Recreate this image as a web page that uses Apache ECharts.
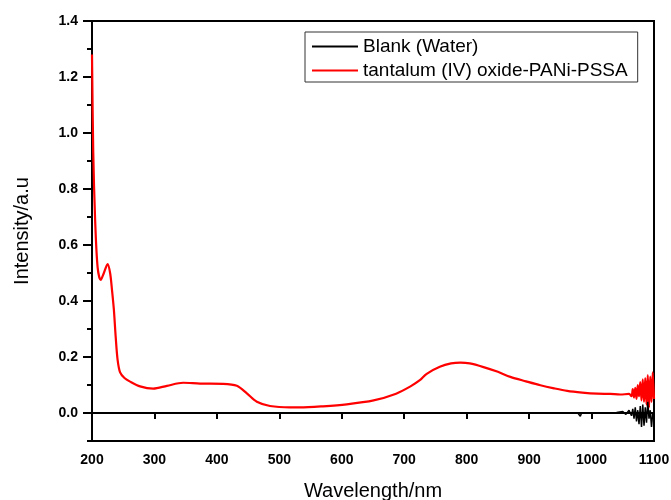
<!DOCTYPE html>
<html>
<head>
<meta charset="utf-8">
<script src="https://cdn.jsdelivr.net/npm/echarts@6/dist/echarts.min.js"></script>
<style>
  html, body { margin: 0; padding: 0; background: #fff; }
  #chart { width: 671px; height: 500px; }
</style>
</head>
<body>
<div id="chart"></div>
<script>
// series names
const seriesNames = ['Blank (Water)', 'tantalum (IV) oxide-PANi-PSSA'];

// y tick labels (major), minor ticks every 0.1
const yMajorTicks = [0, 0.2, 0.4, 0.6, 0.8, 1.0, 1.2, 1.4];

// red curve [wavelength, intensity]
const sampleData = [
  [200, 1.28], [202, 0.93], [205, 0.69], [209, 0.52], [214, 0.475], [219, 0.50],
  [225, 0.532], [229, 0.50], [232, 0.44], [235, 0.37], [238, 0.27], [241, 0.19],
  [245, 0.145], [252, 0.125], [261, 0.112], [277, 0.095], [298, 0.087], [320, 0.097],
  [346, 0.108], [373, 0.105], [410, 0.104], [432, 0.097], [448, 0.07], [464, 0.04],
  [485, 0.025], [517, 0.02], [533, 0.02], [570, 0.024], [608, 0.031], [651, 0.045],
  [687, 0.069], [710, 0.095], [725, 0.117], [736, 0.14], [757, 0.165], [775, 0.177],
  [790, 0.18], [805, 0.177], [827, 0.164], [850, 0.147], [870, 0.129], [895, 0.113],
  [918, 0.099], [940, 0.088], [961, 0.079], [985, 0.073], [1009, 0.069], [1030, 0.068],
  [1046, 0.066], [1060, 0.068], [1064, 0.06], [1066, 0.085], [1068, 0.055], [1070, 0.09],
  [1072, 0.05], [1074, 0.1], [1076, 0.06], [1078, 0.11], [1080, 0.045], [1082, 0.12],
  [1084, 0.04], [1086, 0.125], [1088, 0.03], [1090, 0.135], [1092, 0.02], [1094, 0.13],
  [1096, 0.04], [1098, 0.145], [1100, 0.05]
];

// black baseline
const blankData = [
  [200, 0], [300, 0], [400, 0], [500, 0], [600, 0], [700, 0], [800, 0], [900, 0],
  [978, 0], [980, -0.001], [982, -0.012], [984, 0], [1030, 0.001], [1040, 0.002],
  [1050, 0.005], [1055, -0.005], [1060, 0.01], [1064, -0.01], [1066, 0.015],
  [1068, -0.02], [1070, 0.02], [1072, -0.03], [1074, 0.01], [1076, -0.04],
  [1078, 0.025], [1080, -0.05], [1082, 0.03], [1084, -0.045], [1086, 0.02],
  [1088, -0.035], [1090, 0.04], [1092, -0.02], [1094, 0.01], [1096, -0.05],
  [1098, 0.0], [1100, -0.02]
];

const chart = echarts.init(document.getElementById('chart'));

const font = 'Arial, "Liberation Sans", sans-serif';

const option = {
  animation: false,
  grid: {
    left: 92, right: 17, top: 21, bottom: 59,
    outerBoundsMode: 'none',
    show: true, borderColor: '#000', borderWidth: 2, backgroundColor: 'transparent'
  },
  legend: {
    left: 305, top: 32,
    orient: 'vertical',
    data: seriesNames.map(n => ({ name: n, icon: 'rect' })),
    itemWidth: 46, itemHeight: 2, itemGap: 5,
    padding: [5, 10, 2, 7],
    borderColor: '#333', borderWidth: 1, borderRadius: 0,
    textStyle: { fontFamily: font, fontSize: 19, color: '#000' }
  },
  xAxis: [{
    type: 'value', min: 200, max: 1100, interval: 100,
    name: 'Wavelength/nm', nameLocation: 'middle', nameGap: 40,
    nameTextStyle: { fontFamily: font, fontSize: 20, color: '#000' },
    axisLine: { lineStyle: { color: '#000', width: 2 } },
    axisTick: { length: 6, lineStyle: { color: '#000', width: 2 } },
    axisLabel: {
      margin: 12, fontFamily: font, fontSize: 14, fontWeight: 'bold', color: '#000',
      formatter: v => String(v)
    },
    splitLine: { show: false }
  }],
  yAxis: [{
    type: 'value', min: -0.1, max: 1.4,
    name: 'Intensity/a.u', nameLocation: 'middle', nameGap: 60,
    nameTextStyle: { fontFamily: font, fontSize: 20, color: '#000' },
    axisLine: { lineStyle: { color: '#000', width: 2 } },
    axisTick: { length: 9, customValues: yMajorTicks, lineStyle: { color: '#000', width: 2 } },
    axisLabel: {
      margin: 14, customValues: yMajorTicks, fontFamily: font, fontSize: 14,
      fontWeight: 'bold', color: '#000',
      formatter: v => v.toFixed(1)
    },
    splitLine: { show: false }
  }, {
    // minor ticks
    type: 'value', min: -0.1, max: 1.4, interval: 0.1, position: 'left',
    axisLine: { show: false },
    axisTick: { length: 5, lineStyle: { color: '#000', width: 2 } },
    axisLabel: { show: false },
    splitLine: { show: false }
  }],
  series: [{
    name: seriesNames[0], type: 'line', data: blankData, symbol: 'none',
    lineStyle: { color: '#000', width: 1.5 }, itemStyle: { color: '#000' }, z: 3
  }, {
    name: seriesNames[1], type: 'line', data: sampleData, symbol: 'none', smooth: 0.3,
    lineStyle: { color: '#ff0000', width: 2.2 }, itemStyle: { color: '#ff0000' }, z: 2
  }]
};

chart.setOption(option);
</script>
</body>
</html>
